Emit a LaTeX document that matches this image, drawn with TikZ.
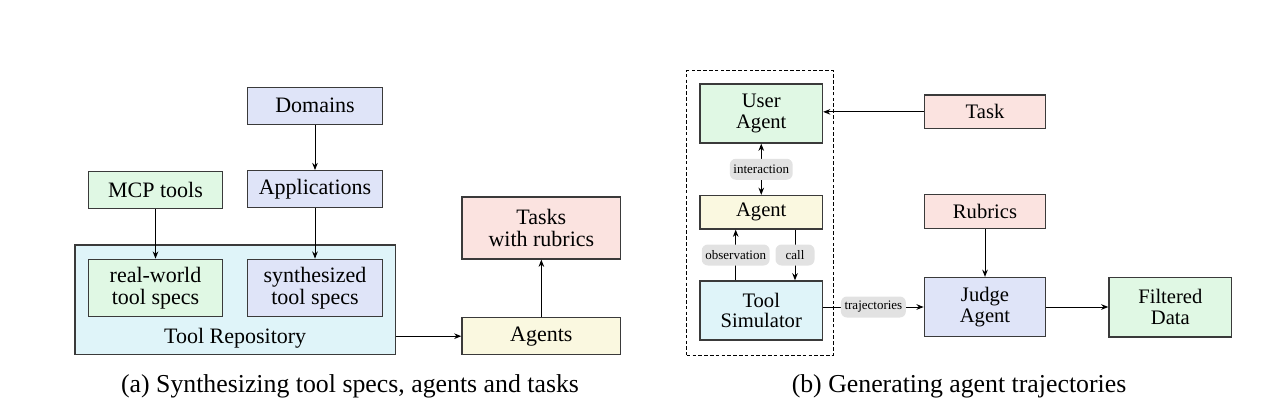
\documentclass[tikz,border=0pt]{standalone}
\usepackage{fontspec}
\setmainfont{Liberation Serif}
\usetikzlibrary{arrows.meta}
\definecolor{cblue}{HTML}{DFE4F8}
\definecolor{cgreen}{HTML}{E0F8E4}
\definecolor{ccyan}{HTML}{DFF4F9}
\definecolor{cpink}{HTML}{FBE3E0}
\definecolor{cyellow}{HTML}{FAF8E0}
\definecolor{cborder}{HTML}{3A3A3A}
\definecolor{clabel}{HTML}{E2E2E2}
\tikzset{
  box/.style={draw=cborder, line width=0.65pt, rectangle, inner sep=0pt, align=center},
  lfont/.style={font=\fontsize{11}{11.2}\selectfont},
  rfont/.style={font=\fontsize{10.3}{10.4}\selectfont},
  lbl/.style={fill=clabel, rounded corners=3pt, inner xsep=1.8pt, inner ysep=0pt,
    minimum width=19.5pt, minimum height=10.5pt, font=\fontsize{6.5}{7}\selectfont},
  arr/.style={-{Stealth[length=3.6pt,width=2.8pt]}, line width=0.5pt, black},
  darr/.style={{Stealth[length=3.6pt,width=2.8pt]}-{Stealth[length=3.6pt,width=2.8pt]}, line width=0.5pt, black},
  grpbox/.style={draw=black, line width=0.5pt, dash pattern=on 1.8pt off 1.1pt, rectangle, inner sep=0pt},
  captext/.style={font=\fontsize{12.9}{14}\selectfont, anchor=base}
}
\begin{document}
\begin{tikzpicture}[x=0.5pt,y=-0.5pt]
\useasboundingbox (0,0) rectangle (1277,407);
% ---------- left panel ----------
\node[box, fill=ccyan, minimum width=160.15pt, minimum height=54.9pt] (repo) at (235.15,299.9) {};
\node[lfont] (repolbl) at (235.15,338) {Tool Repository};
\node[box, lfont, fill=cblue, minimum width=67.3pt, minimum height=18.5pt] (dom) at (315,105.8) {Domains};
\node[box, lfont, fill=cblue, minimum width=67.3pt, minimum height=18.5pt] (app) at (315,189.2) {Applications};
\node[box, lfont, fill=cgreen, minimum width=67.2pt, minimum height=18.3pt] (mcp) at (155.5,190) {MCP tools};
\node[box, lfont, fill=cgreen, minimum width=67.2pt, minimum height=28.7pt] (real) at (155.5,288) {real-world\\tool specs};
\node[box, lfont, fill=cblue, minimum width=67.3pt, minimum height=28.7pt] (synth) at (315,288) {synthesized\\tool specs};
\node[box, lfont, fill=cpink, minimum width=79.35pt, minimum height=31pt] (tasks) at (541.35,228) {Tasks\\with rubrics};
\node[box, lfont, fill=cyellow, minimum width=79.35pt, minimum height=18.5pt] (agents) at (541.35,336.2) {Agents};
\draw[arr] (dom.south) -- (app.north);
\draw[arr] (mcp.south) -- (real.north);
\draw[arr] (app.south) -- (synth.north);
\draw[arr] (agents.west -| repo.east) -- (agents.west);
\draw[arr] (agents.north) -- (tasks.south);
\node[captext] (capa) at (350,392) {(a) Synthesizing tool specs, agents and tasks};
% ---------- right panel ----------
\node[grpbox, minimum width=73.15pt, minimum height=142.15pt] (grp) at (759.85,212.85) {};
\node[box, rfont, fill=cgreen, minimum width=61.25pt, minimum height=29.5pt] (ua) at (761.25,113.5) {User\\Agent};
\node[box, rfont, fill=cyellow, minimum width=61.25pt, minimum height=16.75pt] (ag) at (761.25,212.25) {Agent};
\node[box, rfont, fill=ccyan, minimum width=61.25pt, minimum height=29.5pt] (ts) at (761.25,310.5) {Tool\\Simulator};
\node[box, rfont, fill=cpink, minimum width=60.7pt, minimum height=16.85pt] (task) at (985,111.85) {Task};
\node[box, rfont, fill=cpink, minimum width=60.7pt, minimum height=16.8pt] (rub) at (985,211.5) {Rubrics};
\node[box, rfont, fill=cblue, minimum width=60.7pt, minimum height=29.5pt] (judge) at (985,307) {Judge\\Agent};
\node[box, rfont, fill=cgreen, minimum width=61.35pt, minimum height=29.85pt] (filt) at (1170.35,307) {Filtered\\Data};
\coordinate (obsx) at (735.7,0);
\coordinate (callx) at (795,0);
\draw[arr] (task.west) -- (task.west -| ua.east);
\draw[darr] (ua.south) -- node[lbl] (lint) {interaction} (ag.north);
\draw[arr] (obsx |- ts.north) -- node[lbl] (lobs) {observation} (obsx |- ag.south);
\draw[arr] (callx |- ag.south) -- node[lbl] (lcall) {call} (callx |- ts.north);
\draw[arr] (judge.west -| ts.east) -- node[lbl] (ltraj) {trajectories} (judge.west);
\draw[arr] (rub.south) -- (judge.north);
\draw[arr] (judge.east) -- (judge.east -| filt.west);
\node[captext] (capb) at (959,392) {(b) Generating agent trajectories};
\end{tikzpicture}
\end{document}
